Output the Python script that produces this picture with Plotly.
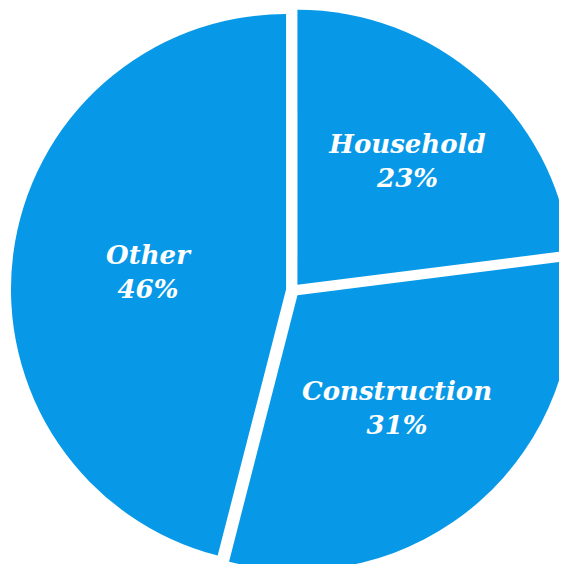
import plotly.graph_objects as go

labels = ["Household", "Construction", "Other"]
values = [23, 31, 46]

fig = go.Figure(go.Pie(
    labels=labels,
    values=values,
    sort=False,
    direction="clockwise",
    rotation=0,
    pull=[0.025, 0.025, 0.025],
    marker=dict(colors=["#0799e8"] * 3, line=dict(width=0)),
    texttemplate="%{label}<br>%{percent:.0%}",
    textposition="inside",
    insidetextorientation="horizontal",
    textfont=dict(family="DejaVu Serif", size=26, color="white", weight="bold", style="italic"),
    hoverinfo="skip",
    domain=dict(x=[0.005, 1], y=[0, 1]),
))

fig.update_layout(
    width=567, height=564,
    margin=dict(l=0, r=0, t=0, b=0),
    showlegend=False,
    paper_bgcolor="white",
    plot_bgcolor="white",
)

fig.write_html("out.html")
